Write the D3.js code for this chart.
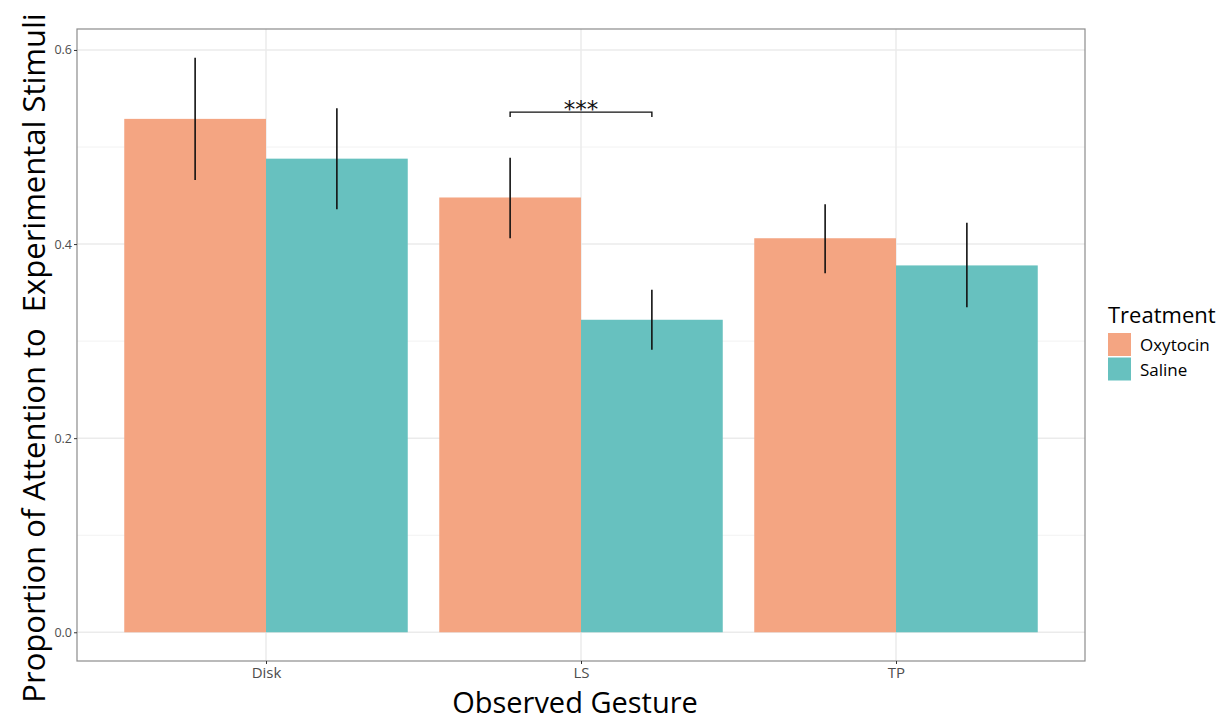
<!DOCTYPE html>
<html><head><meta charset="utf-8">
<script src="https://cdn.jsdelivr.net/npm/d3@7"></script>
<style>body{margin:0;background:#fff}svg{display:block}</style>
</head><body>
<script>
const categories = ["Disk", "LS", "TP"];
const treatments = ["Oxytocin", "Saline"];
const oxytocinMean = [0.529, 0.448, 0.406];
const salineMean   = [0.488, 0.322, 0.378];
const oxytocinLow  = [0.466, 0.406, 0.370];
const oxytocinHigh = [0.592, 0.489, 0.441];
const salineLow    = [0.436, 0.291, 0.335];
const salineHigh   = [0.540, 0.353, 0.422];
const yTicks = [0.0, 0.2, 0.4, 0.6];
const yMinor = [0.1, 0.3, 0.5];
const sigLabel = "***";
const sigValue = 0.536;
const colors = ["#f4a582", "#67c1bf"];

const W = 1225, H = 720;
const m = {left: 77, top: 29, right: 1085, bottom: 661};
const svg = d3.select("body").append("svg").attr("width", W).attr("height", H);

const rows = [];
categories.forEach((c, i) => {
  rows.push({cat: c, tr: treatments[0], v: oxytocinMean[i], lo: oxytocinLow[i], hi: oxytocinHigh[i]});
  rows.push({cat: c, tr: treatments[1], v: salineMean[i], lo: salineLow[i], hi: salineHigh[i]});
});
const maxY = d3.max(rows, d => d.hi), minY = 0;
const pad = (maxY - minY) * 0.05;
const y = d3.scaleLinear().domain([minY - pad, maxY + pad]).range([m.bottom, m.top]);
const xc = d3.scaleLinear().domain([0.4, categories.length + 0.6]).range([m.left, m.right]);
const catPos = c => xc(categories.indexOf(c) + 1);
const unit = xc(1) - xc(0);
const xSub = d3.scaleBand().domain(treatments).range([-0.45 * unit, 0.45 * unit]).padding(0);

// grid
const g = svg.append("g");
g.selectAll(".minor").data(yMinor).join("line")
  .attr("x1", m.left).attr("x2", m.right).attr("y1", d => y(d)).attr("y2", d => y(d))
  .attr("stroke", "#f2f2f2").attr("stroke-width", 1);
g.selectAll(".major").data(yTicks).join("line")
  .attr("x1", m.left).attr("x2", m.right).attr("y1", d => y(d)).attr("y2", d => y(d))
  .attr("stroke", "#ebebeb").attr("stroke-width", 1.5);
g.selectAll(".vmajor").data(categories).join("line")
  .attr("x1", d => catPos(d)).attr("x2", d => catPos(d)).attr("y1", m.top).attr("y2", m.bottom)
  .attr("stroke", "#ebebeb").attr("stroke-width", 1.5);

// bars
svg.append("g").selectAll("rect").data(rows).join("rect")
  .attr("x", d => catPos(d.cat) + xSub(d.tr))
  .attr("width", xSub.bandwidth())
  .attr("y", d => y(d.v))
  .attr("height", d => y(0) - y(d.v))
  .attr("fill", d => colors[treatments.indexOf(d.tr)]);

// error bars
svg.append("g").selectAll("line").data(rows).join("line")
  .attr("x1", d => catPos(d.cat) + xSub(d.tr) + xSub.bandwidth() / 2)
  .attr("x2", d => catPos(d.cat) + xSub(d.tr) + xSub.bandwidth() / 2)
  .attr("y1", d => y(d.lo)).attr("y2", d => y(d.hi))
  .attr("stroke", "#111").attr("stroke-width", 1.6);

// significance bracket on LS
const sx1 = catPos("LS") + xSub("Oxytocin") + xSub.bandwidth() / 2;
const sx2 = catPos("LS") + xSub("Saline") + xSub.bandwidth() / 2;
const sy = y(sigValue);
svg.append("path")
  .attr("d", `M${sx1},${sy + 5}V${sy}H${sx2}V${sy + 5}`)
  .attr("fill", "none").attr("stroke", "#111").attr("stroke-width", 1.4);
svg.append("text").attr("x", (sx1 + sx2) / 2).attr("y", sy + 5)
  .attr("text-anchor", "middle").attr("font-family", "DejaVu Sans").attr("font-size", 23)
  .attr("fill", "#111").text(sigLabel);

// panel border
svg.append("rect").attr("x", m.left).attr("y", m.top)
  .attr("width", m.right - m.left).attr("height", m.bottom - m.top)
  .attr("fill", "none").attr("stroke", "#8c8c8c").attr("stroke-width", 1.2);

// y axis
const yAxis = svg.append("g").attr("transform", `translate(${m.left},0)`)
  .call(d3.axisLeft(y).tickValues(yTicks).tickFormat(d3.format(".1f")).tickSize(3).tickPadding(2));
yAxis.select(".domain").remove();
yAxis.selectAll(".tick line").attr("stroke", "#333");
yAxis.selectAll("text").attr("font-family", "Open Sans").attr("font-size", 12.5).attr("fill", "#4d4d4d");

// x axis
const xAxis = svg.append("g").attr("transform", `translate(0,${m.bottom})`)
  .call(d3.axisBottom(d3.scalePoint().domain(categories).range([catPos(categories[0]), catPos(categories[categories.length - 1])]))
    .tickSize(3).tickPadding(3));
xAxis.select(".domain").remove();
xAxis.selectAll(".tick line").attr("stroke", "#333");
xAxis.selectAll("text").attr("font-family", "Open Sans").attr("font-size", 15).attr("fill", "#4d4d4d");

// titles
svg.append("text").attr("x", (m.left + m.right) / 2 - 6).attr("y", 713)
  .attr("text-anchor", "middle").attr("font-family", "Open Sans").attr("font-size", 29)
  .attr("fill", "#000").text("Observed Gesture");
svg.append("text").attr("transform", `translate(45,${(m.top + m.bottom) / 2 + 13}) rotate(-90)`)
  .attr("text-anchor", "middle").attr("font-family", "Open Sans").attr("font-size", 31)
  .attr("fill", "#000").text("Proportion of Attention to  Experimental Stimuli").style("white-space", "pre");

// legend
const lg = svg.append("g").attr("transform", "translate(1108,0)");
lg.append("text").attr("x", 0).attr("y", 323).attr("font-family", "Open Sans").attr("font-size", 22)
  .attr("fill", "#000").text("Treatment");
treatments.forEach((t, i) => {
  lg.append("rect").attr("x", 0).attr("y", 333 + i * 24.5).attr("width", 23).attr("height", 23)
    .attr("fill", colors[i]);
  lg.append("text").attr("x", 32).attr("y", 351 + i * 24.5).attr("font-family", "Open Sans")
    .attr("font-size", 17).attr("fill", "#000").text(t);
});
</script>
</body></html>
